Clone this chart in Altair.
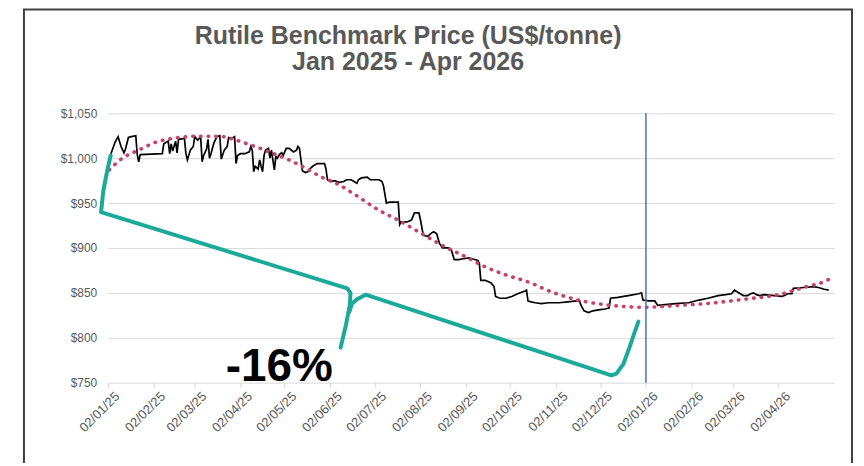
import altair as alt
import pandas as pd

# ---------------- data ----------------
price_dates = [
    "2025-01-04", "2025-01-07", "2025-01-09", "2025-01-11", "2025-01-13", "2025-01-14",
    "2025-01-16", "2025-01-18", "2025-01-21", "2025-01-22", "2025-01-23", "2025-01-24",
    "2025-02-08", "2025-02-09", "2025-02-12", "2025-02-13", "2025-02-14", "2025-02-15",
    "2025-02-17", "2025-02-18", "2025-02-19", "2025-02-23", "2025-02-24", "2025-02-25",
    "2025-02-27",
    "2025-03-01", "2025-03-02", "2025-03-04", "2025-03-06", "2025-03-07", "2025-03-08",
    "2025-03-10", "2025-03-11", "2025-03-12", "2025-03-13", "2025-03-15", "2025-03-17",
    "2025-03-19", "2025-03-20", "2025-03-22", "2025-03-24", "2025-03-25", "2025-03-27",
    "2025-03-29", "2025-03-30", "2025-03-31",
    "2025-04-02", "2025-04-05", "2025-04-08", "2025-04-09", "2025-04-10", "2025-04-11",
    "2025-04-12", "2025-04-14", "2025-04-15", "2025-04-16", "2025-04-17", "2025-04-18",
    "2025-04-19", "2025-04-21", "2025-04-22", "2025-04-23", "2025-04-25", "2025-04-26",
    "2025-04-27", "2025-04-28", "2025-04-29", "2025-04-30",
    "2025-05-01", "2025-05-03", "2025-05-05", "2025-05-08", "2025-05-10", "2025-05-11",
    "2025-05-12", "2025-05-14", "2025-05-16", "2025-05-18", "2025-05-19", "2025-05-21",
    "2025-05-24", "2025-05-29", "2025-05-30", "2025-05-31",
    "2025-06-02", "2025-06-05", "2025-06-08", "2025-06-11", "2025-06-13", "2025-06-16",
    "2025-06-18", "2025-06-20", "2025-06-21", "2025-06-23", "2025-06-27", "2025-06-29",
    "2025-07-05", "2025-07-07", "2025-07-08", "2025-07-10", "2025-07-12", "2025-07-18",
    "2025-07-19", "2025-07-20", "2025-07-24", "2025-07-27", "2025-07-29",
    "2025-08-01", "2025-08-02", "2025-08-04", "2025-08-07", "2025-08-09", "2025-08-11",
    "2025-08-13", "2025-08-15", "2025-08-17", "2025-08-21", "2025-08-23", "2025-08-25",
    "2025-08-28", "2025-08-31",
    "2025-09-04", "2025-09-06", "2025-09-10", "2025-09-11", "2025-09-12", "2025-09-15",
    "2025-09-19", "2025-09-21", "2025-09-22", "2025-09-25", "2025-09-29",
    "2025-10-03", "2025-10-07", "2025-10-12", "2025-10-13", "2025-10-14", "2025-10-16",
    "2025-10-19", "2025-10-23", "2025-10-28",
    "2025-11-04", "2025-11-10", "2025-11-16", "2025-11-18", "2025-11-19", "2025-11-21",
    "2025-11-24", "2025-11-27",
    "2025-12-01", "2025-12-05", "2025-12-08", "2025-12-09", "2025-12-14", "2025-12-21",
    "2025-12-28", "2025-12-30", "2025-12-31",
    "2026-01-04", "2026-01-08", "2026-01-10", "2026-01-15", "2026-01-22", "2026-01-31",
    "2026-02-07", "2026-02-13", "2026-02-20", "2026-02-25",
    "2026-03-01", "2026-03-03", "2026-03-04", "2026-03-07", "2026-03-09", "2026-03-12",
    "2026-03-14", "2026-03-16", "2026-03-18", "2026-03-20", "2026-03-23", "2026-03-30",
    "2026-04-04", "2026-04-06", "2026-04-08", "2026-04-11", "2026-04-12", "2026-04-19",
    "2026-04-26", "2026-04-29",
    "2026-05-03", "2026-05-06",
]
price_values = [
    1004, 1018, 1024, 1013, 1006, 1010, 1023, 1024, 1025, 1004, 996, 1004,
    1005, 1016, 1019, 1005, 1016, 1008, 1019, 1006, 1021, 1022, 1005, 998, 1009,
    1013, 1024, 1020, 1024, 996, 1003, 1010, 1021, 1000, 1005, 1017, 1024, 1025, 999,
    1009, 1013, 1023, 1022, 1024, 994, 1003,
    1005, 1005, 1007, 1013, 1009, 985, 991, 988, 998, 991, 985, 1003, 1009, 1011, 1000,
    1009, 987, 1002, 1000, 1003, 1005, 1006,
    1003, 1011, 1011, 1007, 1009, 1013, 1011, 986, 984, 985, 988, 991, 994, 994, 988, 976,
    974, 975, 973, 974, 976, 976, 974, 972, 976, 978, 979, 976,
    976, 974, 969, 950, 951, 951, 926, 929, 929, 931, 939,
    939, 932, 914, 913, 916, 918, 916, 905, 900, 900, 898, 887, 887, 888,
    889, 888, 886, 883, 864, 864, 861, 857, 846, 844, 844,
    846, 849, 852, 853, 841, 840, 839, 838, 839,
    839, 840, 841, 841, 836, 830, 828, 830,
    831, 832, 833, 844, 845, 847, 849, 850, 842,
    841, 841, 836, 837, 838, 839,
    842, 844, 847, 848,
    849, 853, 852, 849, 847, 847, 849, 850, 848, 847, 848, 847,
    846, 847, 849, 849, 855, 856, 857, 856,
    854, 853,
]

trend_dates = [
    "2025-01-03", "2025-01-12", "2025-01-23", "2025-02-04", "2025-02-15", "2025-03-05",
    "2025-03-21", "2025-03-30", "2025-04-12", "2025-04-23", "2025-05-05", "2025-05-16",
    "2025-05-27", "2025-06-06", "2025-06-19", "2025-07-05", "2025-07-18", "2025-08-05",
    "2025-08-19", "2025-09-02", "2025-09-15", "2025-09-29", "2025-10-16", "2025-10-27",
    "2025-11-17", "2025-12-10", "2026-01-01", "2026-01-24", "2026-02-15", "2026-03-10",
    "2026-04-02", "2026-04-19", "2026-05-02", "2026-05-06",
]
trend_values = [
    987, 1000, 1009, 1018, 1022, 1024.5, 1024, 1020, 1013, 1006, 998, 989,
    979, 972, 959, 942, 931, 914, 901, 890, 879, 870, 861, 853,
    842, 836, 834, 836, 838.5, 843, 848, 856, 862, 865,
]

# annotation brace (two strokes) in date / price space
brace_dates = [
    "2025-01-04T00:00Z", "2025-01-02T00:00Z", "2024-12-30T00:00Z", "2024-12-29T00:00Z",
    "2024-12-28T10:00Z", "2025-06-13T10:00Z", "2025-06-15T14:00Z", "2025-06-15T05:00Z",
    "2025-06-12T12:00Z", "2025-06-08T22:00Z",
    "2025-06-14T22:00Z", "2025-06-16T14:00Z", "2025-06-20T00:00Z", "2025-06-25T22:00Z",
    "2025-12-09T14:00Z", "2025-12-13T00:00Z", "2025-12-17T19:00Z", "2025-12-21T19:00Z",
    "2025-12-25T17:00Z", "2025-12-27T22:00Z",
]
brace_values = [
    1003, 989, 964, 948, 940, 855, 850, 837, 814, 789,
    829, 838, 843, 848, 758, 760, 771, 789, 808, 818,
]
brace_part = [1] * 10 + [2] * 10

label_text = ["-16%"]
label_date = ["2025-04-28T07:00Z"]
label_value = [752]

marker_date = ["2026-01-02"]

tick_dates = [
    "2025-01-02", "2025-02-02", "2025-03-02", "2025-04-02", "2025-05-02", "2025-06-02",
    "2025-07-02", "2025-08-02", "2025-09-02", "2025-10-02", "2025-11-02", "2025-12-02",
    "2026-01-02", "2026-02-02", "2026-03-02", "2026-04-02",
]
y_ticks = [750, 800, 850, 900, 950, 1000, 1050]
x_domain = ["2025-01-02T00:00Z", "2026-05-09T14:00Z"]

title_lines = ["Rutile Benchmark Price (US$/tonne)", "Jan 2025 - Apr 2026"]

# ---------------- build ----------------
def ms(s):
    t = pd.Timestamp(s)
    if t.tzinfo is None:
        t = t.tz_localize("UTC")
    return int(t.timestamp() * 1000)

FONT = "Liberation Sans"
GREY = "#595959"

price_df = pd.DataFrame({"date": price_dates, "price": price_values})
trend_df = pd.DataFrame({"date": trend_dates, "price": trend_values})
brace_df = pd.DataFrame({
    "date": brace_dates, "price": brace_values, "part": brace_part,
    "seq": list(range(len(brace_dates))),
})
label_df = pd.DataFrame({"date": label_date, "price": label_value, "label": label_text})
marker_df = pd.DataFrame({"date": marker_date})

x_scale = alt.Scale(type="utc", domain=[ms(d) for d in x_domain])
y_scale = alt.Scale(domain=[750, 1050], nice=False, zero=False)

x_enc = alt.X(
    "date:T", scale=x_scale,
    axis=alt.Axis(
        values=[ms(d) for d in tick_dates], format="%d/%m/%y",
        title=None, grid=False, domain=False, ticks=True, tickSize=5,
        tickColor="#D9D9D9", labelAngle=-45, labelAlign="right", labelBaseline="top",
        labelPadding=2, labelOffset=5, labelFont=FONT, labelFontSize=13,
        labelColor=GREY, labelOverlap=False,
    ),
)
y_enc = alt.Y(
    "price:Q", scale=y_scale,
    axis=alt.Axis(
        values=y_ticks, format="$,.0f", title=None, grid=True, gridColor="#D9D9D9",
        gridWidth=1, domain=False, ticks=False, tickSize=0, labelPadding=11,
        labelFont=FONT, labelFontSize=12, labelColor=GREY,
    ),
)

frame = alt.Chart(pd.DataFrame({"f": [0]})).mark_rect(
    fillOpacity=0, stroke="#404040", strokeWidth=2
).encode(
    x=alt.value(-84), x2=alt.value(746), y=alt.value(-104), y2=alt.value(362)
)

price_line = alt.Chart(price_df).mark_line(
    color="#000000", strokeWidth=1.7
).encode(x=x_enc, y=y_enc)

trend_line = alt.Chart(trend_df).mark_line(
    color="#C9406A", strokeWidth=3.6, strokeDash=[0.5, 7.2], strokeCap="round",
    interpolate="monotone",
).encode(x="date:T", y="price:Q")

marker = alt.Chart(marker_df).mark_rule(
    color="#4472C4", strokeWidth=1.5
).encode(x="date:T")

brace = alt.Chart(brace_df).mark_line(
    color="#1BAA99", strokeWidth=4, strokeCap="round", strokeJoin="round",
).encode(x="date:T", y="price:Q", detail="part:N", order="seq:Q")

label = alt.Chart(label_df).mark_text(
    font=FONT, fontSize=46, fontWeight="bold", color="#000000",
    align="center", baseline="alphabetic",
).encode(x="date:T", y="price:Q", text="label:N")

chart = alt.layer(
    frame, price_line, trend_line, marker, brace, label
).properties(
    width=728, height=270,
    autosize=alt.AutoSizeParams(type="none"),
    padding={"left": 100, "top": 105, "right": 22, "bottom": 80},
    title=alt.TitleParams(
        text=title_lines, font=FONT, fontSize=25, fontWeight="bold", color=GREY,
        anchor="middle", frame="group", dx=-63, offset=-67, lineHeight=26,
    ),
    background="#FFFFFF",
).configure_view(stroke=None)

chart.save("out.html", embed_options={"renderer": "svg", "actions": False})
